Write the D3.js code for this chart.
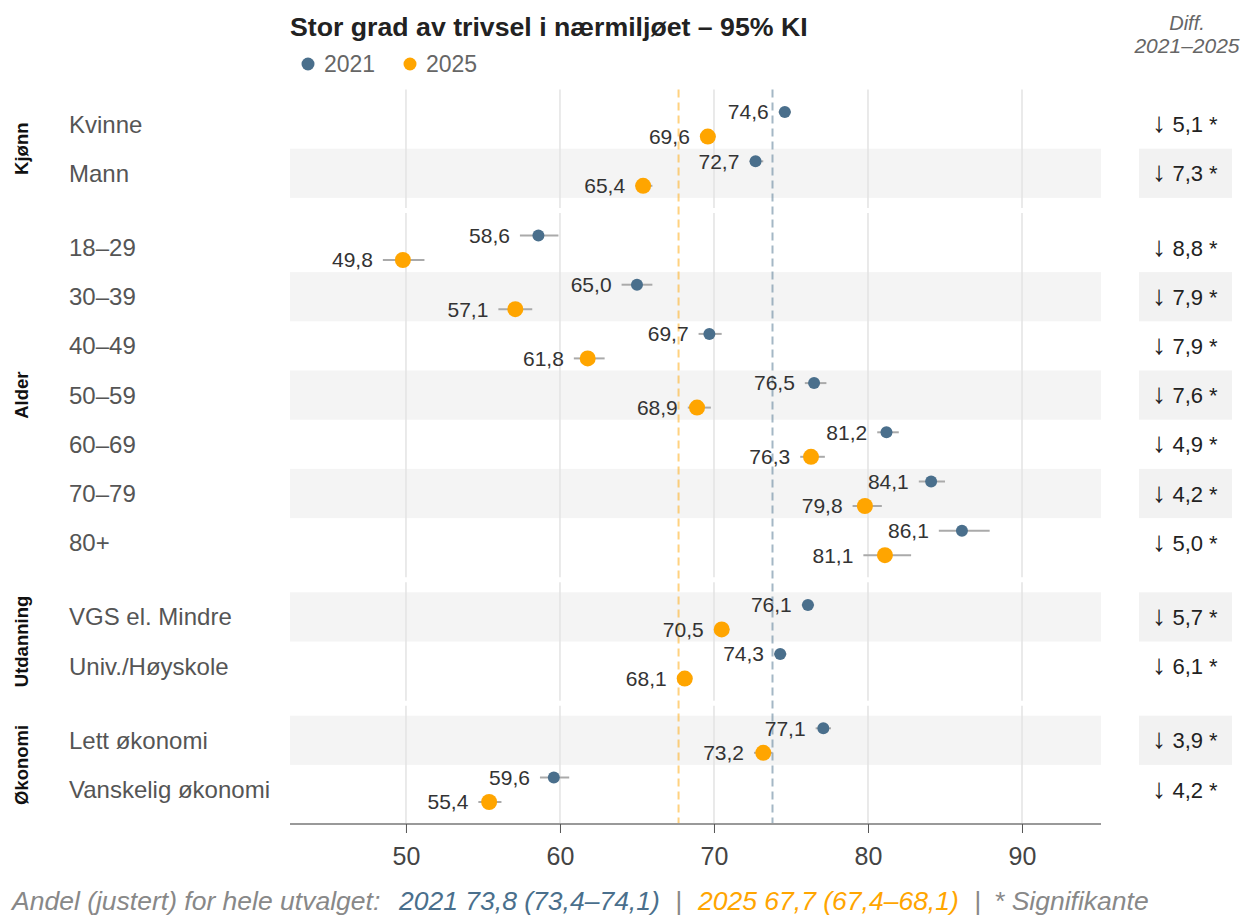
<!DOCTYPE html>
<html>
<head>
<meta charset="utf-8">
<script src="https://cdn.jsdelivr.net/npm/d3@7"></script>
<style>
  body { margin: 0; background: #fff; }
  svg { display: block; font-family: "Liberation Sans", Arial, sans-serif; }
</style>
</head>
<body>
<svg id="chart" width="1241" height="916"></svg>
<script>
// groups and their rows
const groups = ["Kjønn", "Alder", "Utdanning", "Økonomi"];
const rows = [
  ["Kvinne", "Mann"],
  ["18–29", "30–39", "40–49", "50–59", "60–69", "70–79", "80+"],
  ["VGS el. Mindre", "Univ./Høyskole"],
  ["Lett økonomi", "Vanskelig økonomi"]
];

// estimates per row (flat order)
const val2021 = [74.6, 72.7, 58.6, 65.0, 69.7, 76.5, 81.2, 84.1, 86.1, 76.1, 74.3, 77.1, 59.6];
const lo2021  = [74.2, 72.3, 57.4, 64.0, 69.0, 75.9, 80.6, 83.3, 84.6, 75.7, 73.9, 76.6, 58.7];
const hi2021  = [75.0, 73.2, 59.9, 66.0, 70.5, 77.3, 82.0, 85.0, 87.9, 76.5, 74.7, 77.6, 60.6];
const val2025 = [69.6, 65.4, 49.8, 57.1, 61.8, 68.9, 76.3, 79.8, 81.1, 70.5, 68.1, 73.2, 55.4];
const lo2025  = [69.1, 64.9, 48.5, 56.0, 60.9, 68.3, 75.6, 79.0, 79.7, 70.0, 67.6, 72.6, 54.7];
const hi2025  = [70.1, 66.0, 51.2, 58.2, 62.9, 69.8, 77.2, 80.9, 82.8, 71.0, 68.6, 73.8, 56.2];
const diffs   = ["5,1", "7,3", "8,8", "7,9", "7,9", "7,6", "4,9", "4,2", "5,0", "5,7", "6,1", "3,9", "4,2"];

const xTicks = [50, 60, 70, 80, 90];
const overall = { y2021: 73.8, y2025: 67.7 };

const col2021 = "#4a6f8c", col2025 = "#ffa500";

const svg = d3.select("#chart");
const mLeft = 290, mRight = 1101, mTop = 89.5, mBottom = 824;
const rowH = 49.2, pad = 10, spacing = 5;

const x = d3.scaleLinear().domain([42.47, 95.13]).range([mLeft, mRight]);

// shaded bands + diff boxes go underneath
const layer = svg.append("g");
const grid = svg.append("g");
const marks = svg.append("g");

let y0 = mTop, idx = 0;
const rowInfo = [];
groups.forEach((g, gi) => {
  const labels = rows[gi];
  const h = labels.length * rowH + 2 * pad;
  const yb = d3.scaleBand().domain(labels).range([y0, y0 + h]).paddingOuter(pad / rowH);

  // gridlines inside the panel
  grid.selectAll(null).data(xTicks).join("line")
    .attr("x1", d => x(d)).attr("x2", d => x(d))
    .attr("y1", y0).attr("y2", y0 + h)
    .attr("stroke", "#e3e3e3").attr("stroke-width", 1.5);

  labels.forEach(l => {
    rowInfo.push({ label: l, y: yb(l), h: yb.bandwidth(), i: idx });
    idx++;
  });

  // group label
  svg.append("text")
    .attr("transform", `translate(28,${y0 + h / 2}) rotate(-90)`)
    .attr("text-anchor", "middle")
    .attr("font-size", 18.5).attr("font-weight", "bold").attr("fill", "#111")
    .text(g);

  y0 += h + spacing;
});

const shaded = rowInfo.filter(d => d.i % 2 == 1);
layer.selectAll("rect.band").data(shaded).join("rect")
  .attr("x", mLeft).attr("width", mRight - mLeft)
  .attr("y", d => d.y).attr("height", d => d.h)
  .attr("fill", "#f4f4f4");
layer.selectAll("rect.diffbox").data(shaded).join("rect")
  .attr("x", 1139).attr("width", 93)
  .attr("y", d => d.y).attr("height", d => d.h)
  .attr("fill", "#f2f2f2");

// reference lines for whole sample
[[overall.y2025, col2025], [overall.y2021, col2021]].forEach(([v, c]) => {
  grid.append("line")
    .attr("x1", x(v)).attr("x2", x(v))
    .attr("y1", mTop).attr("y2", mBottom)
    .attr("stroke", c).attr("stroke-opacity", 0.5)
    .attr("stroke-width", 2).attr("stroke-dasharray", "8,5");
});

// row labels
svg.selectAll("text.rowlab").data(rowInfo).join("text")
  .attr("x", 69).attr("y", d => d.y + d.h / 2)
  .attr("dy", "0.35em")
  .attr("font-size", 24).attr("fill", "#555")
  .text(d => d.label);

// series
const series = [
  { v: val2021, lo: lo2021, hi: hi2021, col: col2021, r: 6, off: -12 },
  { v: val2025, lo: lo2025, hi: hi2025, col: col2025, r: 8, off: 12.5 }
];
series.forEach(s => {
  const pts = rowInfo.map(d => ({
    v: s.v[d.i], lo: s.lo[d.i], hi: s.hi[d.i], cy: d.y + d.h / 2 + s.off
  }));
  marks.selectAll(null).data(pts).join("line")
    .attr("x1", d => x(d.lo)).attr("x2", d => x(d.hi))
    .attr("y1", d => d.cy).attr("y2", d => d.cy)
    .attr("stroke", "#aaa").attr("stroke-width", 2);
  marks.selectAll(null).data(pts).join("circle")
    .attr("cx", d => x(d.v)).attr("cy", d => d.cy).attr("r", s.r)
    .attr("fill", s.col);
  marks.selectAll(null).data(pts).join("text")
    .attr("x", d => Math.min(x(d.lo), x(d.v) - s.r) - 10)
    .attr("y", d => d.cy).attr("dy", "0.35em")
    .attr("text-anchor", "end")
    .attr("font-size", 21).attr("fill", "#333")
    .text(d => d3.format(".1f")(d.v).replace(".", ","));
});

// diff column
const diffText = svg.selectAll("text.diff").data(rowInfo).join("text")
  .attr("x", 1185).attr("y", d => d.y + d.h / 2 + 8)
  .attr("text-anchor", "middle")
  .attr("font-size", 22).attr("fill", "#222");
diffText.append("tspan").attr("font-size", 28).text("↓");
diffText.append("tspan").text(d => " " + diffs[d.i] + " *");
svg.append("text").attr("x", 1187).attr("y", 30).attr("text-anchor", "middle")
  .attr("font-size", 20).attr("font-style", "italic").attr("fill", "#666").text("Diff.");
svg.append("text").attr("x", 1187).attr("y", 53).attr("text-anchor", "middle")
  .attr("font-size", 21).attr("font-style", "italic").attr("fill", "#666").text("2021–2025");

// x axis
const axis = svg.append("g").attr("transform", `translate(0,${mBottom})`)
  .call(d3.axisBottom(x).tickValues(xTicks).tickSize(9).tickPadding(14));
axis.select(".domain").attr("stroke", "#999").attr("stroke-width", 2)
  .attr("d", `M${mLeft},0H${mRight}`);
axis.selectAll(".tick line").attr("stroke", "#555");
axis.selectAll(".tick text").attr("font-size", 25).attr("fill", "#444")
  .attr("font-family", "Liberation Sans, Arial, sans-serif");

// title and legend
svg.append("text").attr("x", 290).attr("y", 36)
  .attr("font-size", 26.7).attr("font-weight", "bold").attr("fill", "#222")
  .text("Stor grad av trivsel i nærmiljøet – 95% KI");
const leg = svg.append("g").attr("transform", "translate(308,64)");
[["2021", col2021, 0], ["2025", col2025, 102]].forEach(([t, c, dx]) => {
  leg.append("circle").attr("cx", dx).attr("cy", 0).attr("r", 6.5).attr("fill", c);
  leg.append("text").attr("x", dx + 16).attr("y", 0).attr("dy", "0.35em")
    .attr("font-size", 23).attr("fill", "#666").text(t);
});

// footer
const foot = svg.append("text").attr("y", 910)
  .attr("font-size", 26.5).attr("font-style", "italic").attr("fill", "#888");
foot.append("tspan").attr("x", 12).text("Andel (justert) for hele utvalget:");
foot.append("tspan").attr("x", 399).attr("fill", col2021).text("2021 73,8 (73,4–74,1)");
foot.append("tspan").attr("x", 675).text("|");
foot.append("tspan").attr("x", 698).attr("fill", col2025).text("2025 67,7 (67,4–68,1)");
foot.append("tspan").attr("x", 974).text("|");
foot.append("tspan").attr("x", 994).text("* Signifikante");
</script>
</body>
</html>
